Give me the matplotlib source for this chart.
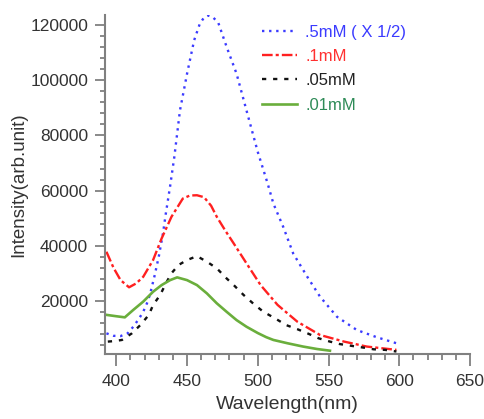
import matplotlib
matplotlib.use('Agg')
import matplotlib.pyplot as plt
from matplotlib.ticker import MultipleLocator

plt.rcParams['font.family'] = ['Liberation Sans', 'DejaVu Sans']

# .5mM (already scaled x 1/2)
wl_05 = [393, 398, 403, 408, 412, 416, 419, 422, 424, 427, 430, 433, 435, 438, 441, 445,
         450, 455, 459, 462, 465, 468, 472, 478, 485, 492, 500, 507, 511, 518, 525, 535,
         544, 556, 570, 584, 598]
int_05 = [8200, 7300, 7200, 8200, 10600, 13500, 16000, 19500, 22700, 29000, 36000, 44500,
          51700, 61500, 72200, 89100, 102400, 114500, 120500, 122800, 123500, 123000,
          121000, 112100, 102400, 89100, 74000, 62500, 55300, 46800, 37200, 28700,
          21500, 14200, 9400, 6800, 4600]

# .1mM
wl_01 = [393, 398, 403, 409, 414, 419, 426, 432, 439, 447, 452, 457, 462, 467, 471, 477,
         483, 492, 502, 514, 528, 544, 561, 577, 598]
int_01 = [37800, 32000, 27500, 24900, 26300, 28700, 34800, 42600, 50500, 57100, 58200,
          58300, 57600, 54500, 50500, 45500, 40800, 33600, 25700, 18500, 12400, 7600,
          5200, 3400, 2200]

# .05mM
wl_005 = [394, 399, 404, 411, 417, 423, 426, 431, 435, 439, 444, 450, 457, 464, 471, 478,
          483, 490, 497, 504, 512, 520, 528, 536, 543, 551, 558, 567, 575, 582, 590, 598]
int_005 = [5200, 5400, 5800, 8200, 11200, 14900, 18500, 22100, 26300, 30000, 33000, 34800,
           36200, 34200, 31800, 28100, 25700, 22100, 18900, 16000, 13700, 11200, 9700,
           8000, 6400, 5200, 4300, 3600, 3000, 2400, 2200, 1600]

# .01mM
wl_001 = [393, 400, 406, 412, 419, 426, 432, 438, 443, 450, 457, 464, 471, 478, 485, 492,
          500, 506, 511, 521, 532, 542, 551]
int_001 = [14900, 14400, 14000, 16700, 19700, 23300, 25700, 27500, 28500, 27500, 25700,
           22700, 19100, 16000, 13000, 10600, 8300, 6800, 5800, 4600, 3400, 2500, 1900]

labels = ['.5mM ( X 1/2)', '.1mM', '.05mM', '.01mM']
colors = ['#3b3bff', '#ff2020', '#111111', '#6aae3c']
text_colors = ['#3b3bff', '#ff3030', '#222222', '#2e8b57']

fig = plt.figure(figsize=(4.85, 4.19), dpi=100)
ax = fig.add_axes([105 / 485, 1 - 354 / 419, 365 / 485, 339 / 419])

ax.plot(wl_05, int_05, color=colors[0], lw=1.7, linestyle=(0, (1, 2)), label=labels[0])
ax.plot(wl_01, int_01, color=colors[1], lw=1.7, linestyle=(0, (4.5, 1.3, 1.3, 1.3)), label=labels[1])
ax.plot(wl_005, int_005, color=colors[2], lw=1.7, linestyle=(0, (1.8, 2.9)), label=labels[2])
ax.plot(wl_001, int_001, color=colors[3], lw=1.9, label=labels[3])

ax.set_xlim(392, 650)
ax.set_ylim(700, 123700)
ax.xaxis.set_major_locator(MultipleLocator(50))
ax.xaxis.set_minor_locator(MultipleLocator(10))
ax.yaxis.set_major_locator(MultipleLocator(20000))
ax.yaxis.set_minor_locator(MultipleLocator(4000))

for s in ['top', 'right']:
    ax.spines[s].set_visible(False)
for s in ['left', 'bottom']:
    ax.spines[s].set_color('#808080')
    ax.spines[s].set_linewidth(1.5)

ax.tick_params(axis='both', which='both', direction='out', color='#808080', width=1.3,
               labelcolor='#333333', labelsize=12.5)
ax.tick_params(axis='y', which='major', length=7.2, pad=5)
ax.tick_params(axis='y', which='minor', length=3.6)
ax.tick_params(axis='x', which='major', length=8.6, pad=6)
ax.tick_params(axis='x', which='minor', length=4.3)

ax.set_xlabel('Wavelength(nm)', fontsize=14, color='#333333', labelpad=5)
ax.set_ylabel('Intensity(arb.unit)', fontsize=13.5, color='#333333', labelpad=2)

leg = ax.legend(loc='upper left', bbox_to_anchor=(262 / 485, 1 - 25 / 419),
                bbox_transform=fig.transFigure, frameon=False, fontsize=12,
                handlelength=2.1, handletextpad=0.5, labelspacing=0.55,
                borderpad=0, borderaxespad=0)
for t, c in zip(leg.get_texts(), text_colors):
    t.set_color(c)

fig.savefig('out.png', dpi=100)
